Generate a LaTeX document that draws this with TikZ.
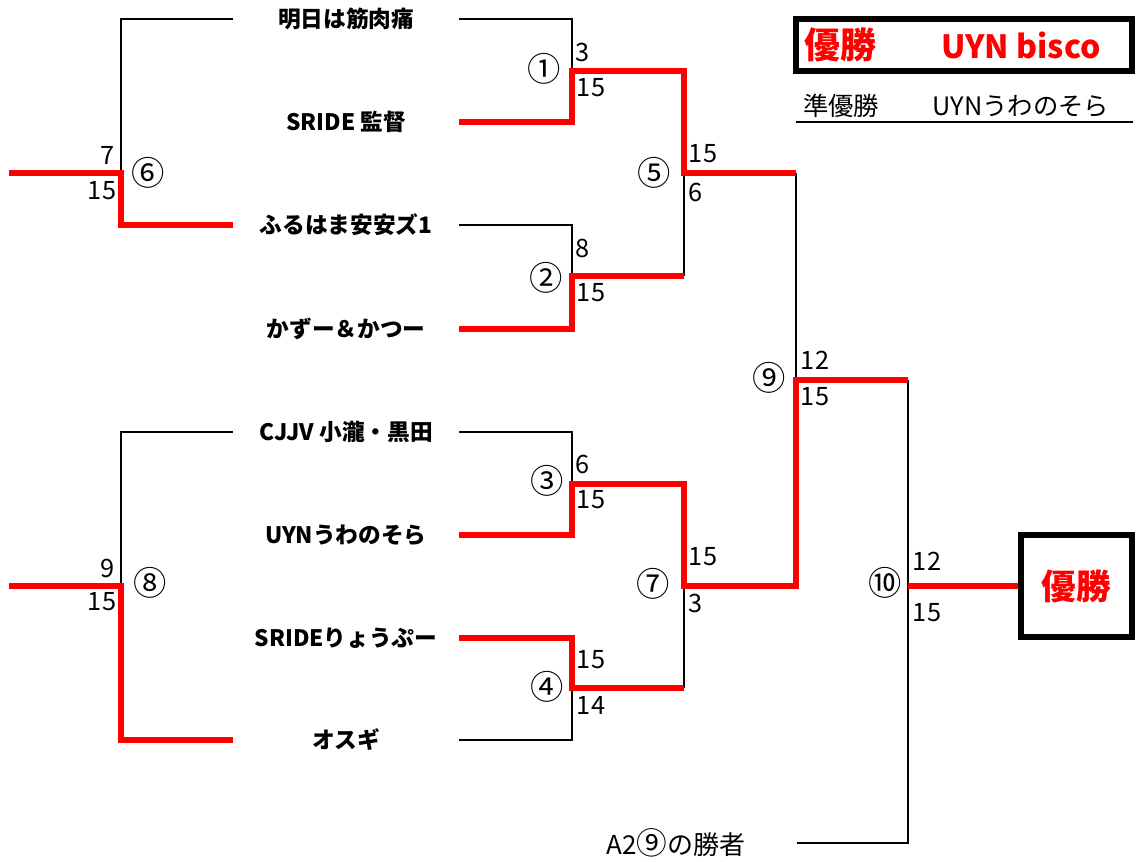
\documentclass[tikz,border=0pt]{standalone}
\usepackage{fontspec}
\setmainfont{Noto Sans CJK JP}
\usetikzlibrary{positioning}

\begin{document}
\begin{tikzpicture}[x=0.75pt,y=-0.75pt,line join=miter]
        \tikzstyle{team}=[minimum width=169.5pt, inner sep=0pt, font=\fontsize{17}{20}\selectfont\bfseries]
        \tikzstyle{score}=[inner sep=0pt, font=\fontsize{19}{21}\selectfont]
        \tikzstyle{game}=[inner sep=0pt, font=\fontsize{25}{28}\selectfont]
        \tikzstyle{lose}=[draw=black, line width=2.2pt]
        \tikzstyle{win}=[draw=red, line width=4.9pt]

        \useasboundingbox (0,0) rectangle (1137,861);

        \node[team] (t1) at (346,19)  {明日は筋肉痛};
        \node[team] (t2) at (346,122) {SRIDE 監督};
        \node[team] (t3) at (346,225) {ふるはま安安ズ1};
        \node[team] (t4) at (346,329) {かずー＆かつー};
        \node[team] (t5) at (346,432) {CJJV 小瀧・黒田};
        \node[team] (t6) at (346,535) {UYNうわのそら};
        \node[team] (t7) at (346,638) {SRIDEりょうぷー};
        \node[team] (t8) at (346,740) {オスギ};

        \coordinate (m1) at (572,71);
        \coordinate (m2) at (572,276);
        \coordinate (m3) at (572,484);
        \coordinate (m4) at (572,688);
        \coordinate (m5) at (684,173);
        \coordinate (m7) at (684,586);
        \coordinate (m9) at (796,380);
        \coordinate (m10) at (908,586);
        \coordinate (m6) at (121,173);
        \coordinate (m8) at (121,586);
        \coordinate (o6) at (9,173);
        \coordinate (o8) at (9,586);
        \coordinate (s10) at (797,843);

        \node[font=\fontsize{19.5}{22}\selectfont, inner sep=0pt] (a2) at (676,843) {A2{\fontsize{23}{23}\selectfont ⑨}の勝者};
        \node[draw, line width=4.2pt, minimum width=83.25pt, minimum height=76.5pt,
              text=red, font=\fontsize{26}{30}\selectfont\bfseries] (champ) at (1076.5,586) {優勝};

        \node[draw, line width=4.5pt, minimum width=252pt, minimum height=39pt] (title) at (964,44.5) {};
        \node[text=red, font=\fontsize{27}{30}\selectfont\bfseries, inner sep=0pt] (w1) at (840,45) {優勝};
        \node[text=red, font=\fontsize{24}{26}\selectfont\bfseries, inner sep=0pt] (w2) at (1021,45) {UYN bisco};
        \node[font=\fontsize{19}{22}\selectfont, inner sep=0pt] (r1) at (841,106) {準優勝};
        \node[font=\fontsize{19}{22}\selectfont, inner sep=0pt] (r2) at (1021,106) {UYNうわのそら};
        \draw[line width=2.2pt] (796,122) -- (1133,122);

        \node[game] (g1) at (544,69)  {①};
        \node[game] (g2) at (546,278) {②};
        \node[game] (g3) at (547,481) {③};
        \node[game] (g4) at (547,687) {④};
        \node[game] (g5) at (654,173) {⑤};
        \node[game] (g6) at (148,173) {⑥};
        \node[game] (g7) at (653,584) {⑦};
        \node[game] (g8) at (150,583) {⑧};
        \node[game] (g9) at (769,378) {⑨};
        \node[game] (g10) at (885,583) {⑩};

        \node[score] at (583,52)  {3};
        \node[score] at (591,88)  {15};
        \node[score] at (583,248) {8};
        \node[score] at (591,293) {15};
        \node[score] at (583,464) {6};
        \node[score] at (591,500) {15};
        \node[score] at (591,660) {15};
        \node[score] at (591,705) {14};
        \node[score] at (703,154) {15};
        \node[score] at (696,192) {6};
        \node[score] at (703,557) {15};
        \node[score] at (696,603) {3};
        \node[score] at (815,360) {12};
        \node[score] at (815,397) {15};
        \node[score] at (927,561) {12};
        \node[score] at (927,613) {15};
        \node[score] at (108,155) {7};
        \node[score] at (102,191) {15};
        \node[score] at (108,568) {9};
        \node[score] at (102,602) {15};

        \draw[lose] (t1.east) -| (m1);
        \draw[lose] (t3.east) -| (m2);
        \draw[lose] (t5.east) -| (m3);
        \draw[lose] (t8.east) -| (m4);
        \draw[lose] (m2 -| m5) -- (m5);
        \draw[lose] (m4 -| m7) -- (m7);
        \draw[lose] (m5 -| m9) -- (m9);
        \draw[lose] (m9 -| m10) -- (s10 -| m10) -- (s10);
        \draw[lose] (t1.west) -| (m6);
        \draw[lose] (t5.west) -| (m8);

        \draw[win] (t2.east) -| (m1) -| (m5) -- (m5 -| m9);
        \draw[win] (t4.east) -| (m2) -- (m2 -| m5);
        \draw[win] (t6.east) -| (m3) -| (m7) -| (m9) -- (m9 -| m10);
        \draw[win] (t7.east) -| (m4) -- (m4 -| m7);
        \draw[win] (m10) -- (champ.west);
        \draw[win] (t3.west) -| (m6) -- (o6);
        \draw[win] (t8.west) -| (m8) -- (o8);
\end{tikzpicture}
\end{document}
